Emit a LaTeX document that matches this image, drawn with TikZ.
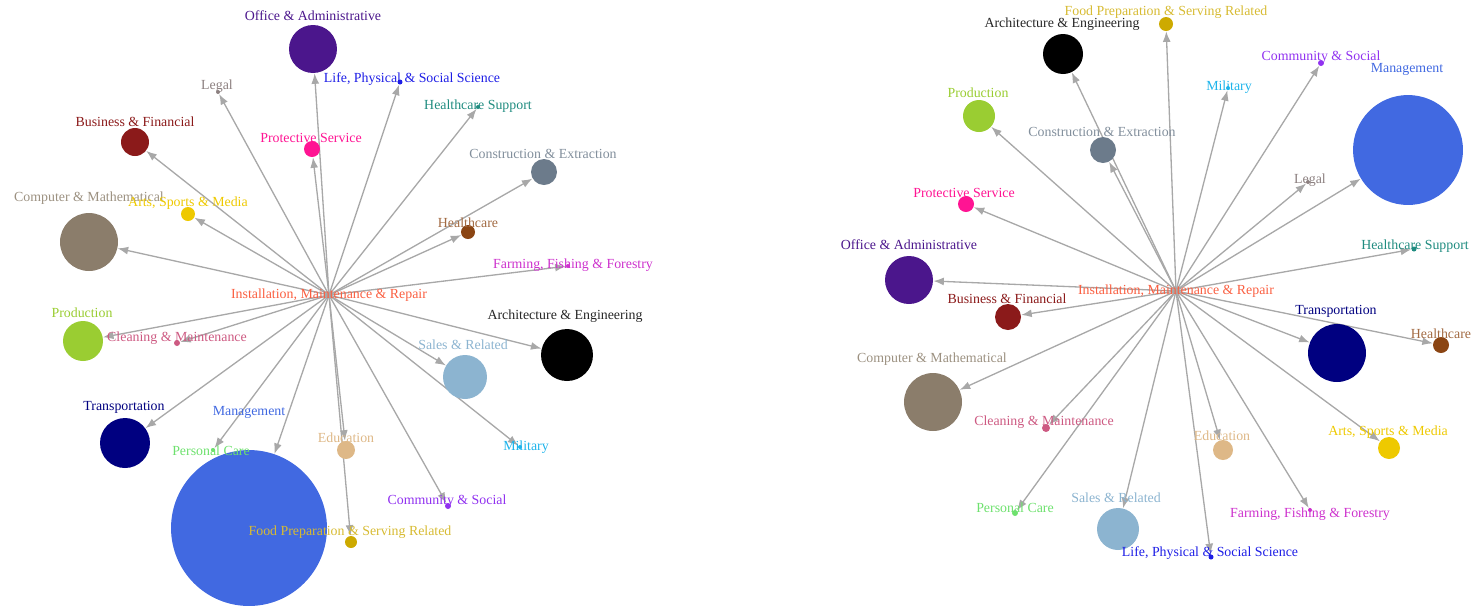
\documentclass[tikz,border=0pt]{standalone}
\usepackage{fontspec}
\setmainfont{Liberation Serif}
\usetikzlibrary{arrows.meta}

\definecolor{edgegrey}{RGB}{168,168,168}
\definecolor{installcol}{RGB}{250,95,65}
\definecolor{officecol}{RGB}{75,22,140}
\definecolor{lifecol}{RGB}{30,30,230}
\definecolor{legalcol}{RGB}{140,128,128}
\definecolor{businesscol}{RGB}{139,26,26}
\definecolor{protectcol}{RGB}{255,20,147}
\definecolor{hsupportcol}{RGB}{32,140,128}
\definecolor{constructcol}{RGB}{108,123,139}
\definecolor{computercol}{RGB}{139,125,107}
\definecolor{artscol}{RGB}{238,201,0}
\definecolor{healthcol}{RGB}{139,69,19}
\definecolor{farmingcol}{RGB}{205,50,205}
\definecolor{productioncol}{RGB}{154,205,50}
\definecolor{cleaningcol}{RGB}{205,90,130}
\definecolor{archcol}{RGB}{0,0,0}
\definecolor{salescol}{RGB}{140,180,208}
\definecolor{militarycol}{RGB}{30,180,235}
\definecolor{transportcol}{RGB}{0,0,128}
\definecolor{managecol}{RGB}{65,105,225}
\definecolor{personalcol}{RGB}{110,225,110}
\definecolor{educationcol}{RGB}{222,184,135}
\definecolor{communitycol}{RGB}{145,50,240}
\definecolor{foodcol}{RGB}{205,170,0}

\pgfdeclarelayer{background}
\pgfsetlayers{background,main}

\tikzset{jobstyle/.style={circle, inner sep=0pt, draw=none, minimum size=#1*0.04cm}}
\tikzstyle{lblstyle} = [inner sep=0pt, font=\fontsize{7.9}{9}\selectfont]
\tikzstyle{centerstyle} = [inner sep=0pt, text=installcol, font=\fontsize{7.9}{9}\selectfont]
\tikzstyle{arrow} = [draw=edgegrey, line width=0.75pt, ->, >={Latex[length=6pt,width=4.5pt]}]

\begin{document}
\begin{tikzpicture}[x=0.02cm, y=-0.02cm]
\useasboundingbox (0,0) rectangle (1474,610);

% left star
\node (install1) [centerstyle] at (329,295) {Installation, Maintenance \& Repair};

\node (office1) [jobstyle=24, fill=officecol] at (313,49) {};
\node (office1t) [lblstyle, text=officecol] at (313,16) {Office \& Administrative};
\node (life1) [jobstyle=2.5, fill=lifecol] at (400,82) {};
\node (life1t) [lblstyle, text=lifecol] at (412,79) {Life, Physical \& Social Science};
\node (legal1) [jobstyle=2, fill=legalcol] at (218,92) {};
\node (legal1t) [lblstyle, text=legalcol] at (217,86) {Legal};
\node (business1) [jobstyle=14, fill=businesscol] at (135,142) {};
\node (business1t) [lblstyle, text=businesscol] at (135,122) {Business \& Financial};
\node (protect1) [jobstyle=8, fill=protectcol] at (312,149) {};
\node (protect1t) [lblstyle, text=protectcol] at (311,138) {Protective Service};
\node (hsupport1) [jobstyle=2, fill=hsupportcol] at (478,107) {};
\node (hsupport1t) [lblstyle, text=hsupportcol] at (478,106) {Healthcare Support};
\node (construct1) [jobstyle=13, fill=constructcol] at (544,172) {};
\node (construct1t) [lblstyle, text=constructcol!85] at (543,154) {Construction \& Extraction};
\node (computer1) [jobstyle=29, fill=computercol] at (89,242) {};
\node (computer1t) [lblstyle, text=computercol!85] at (89,198) {Computer \& Mathematical};
\node (arts1) [jobstyle=7, fill=artscol] at (188,214) {};
\node (arts1t) [lblstyle, text=artscol] at (188,203) {Arts, Sports \& Media};
\node (health1) [jobstyle=7, fill=healthcol] at (468,232) {};
\node (health1t) [lblstyle, text=healthcol!80] at (468,223) {Healthcare};
\node (farming1) [jobstyle=2, fill=farmingcol] at (568,266) {};
\node (farming1t) [lblstyle, text=farmingcol] at (573,265) {Farming, Fishing \& Forestry};
\node (production1) [jobstyle=20, fill=productioncol] at (83,341) {};
\node (production1t) [lblstyle, text=productioncol] at (82,313) {Production};
\node (cleaning1) [jobstyle=3, fill=cleaningcol] at (177,343) {};
\node (cleaning1t) [lblstyle, text=cleaningcol] at (177,338) {Cleaning \& Maintenance};
\node (arch1) [jobstyle=26, fill=archcol] at (567,355) {};
\node (arch1t) [lblstyle, text=archcol!85] at (565,316) {Architecture \& Engineering};
\node (sales1) [jobstyle=22, fill=salescol] at (465,377) {};
\node (sales1t) [lblstyle, text=salescol] at (463,345) {Sales \& Related};
\node (military1) [jobstyle=2, fill=militarycol] at (520,447) {};
\node (military1t) [lblstyle, text=militarycol] at (526,447) {Military};
\node (transport1) [jobstyle=25, fill=transportcol] at (125,443) {};
\node (transport1t) [lblstyle, text=transportcol] at (124,407) {Transportation};
\node (manage1) [jobstyle=78, fill=managecol] at (249,528) {};
\node (manage1t) [lblstyle, text=managecol] at (249,412) {Management};
\node (personal1) [jobstyle=2, fill=personalcol] at (213,450) {};
\node (personal1t) [lblstyle, text=personalcol] at (211,451) {Personal Care};
\node (education1) [jobstyle=9, fill=educationcol] at (346,450) {};
\node (education1t) [lblstyle, text=educationcol] at (346,438) {Education};
\node (community1) [jobstyle=3, fill=communitycol] at (448,506) {};
\node (community1t) [lblstyle, text=communitycol] at (447,501) {Community \& Social};
\node (food1) [jobstyle=6, fill=foodcol] at (351,542) {};
\node (food1t) [lblstyle, text=foodcol!80] at (350,532) {Food Preparation \& Serving Related};

% right star
\node (install2) [centerstyle] at (1176,291) {Installation, Maintenance \& Repair};

\node (food2) [jobstyle=7, fill=foodcol] at (1166,24) {};
\node (food2t) [lblstyle, text=foodcol!80] at (1166,12) {Food Preparation \& Serving Related};
\node (arch2) [jobstyle=20, fill=archcol] at (1063,54) {};
\node (arch2t) [lblstyle, text=archcol!85] at (1062,24) {Architecture \& Engineering};
\node (community2) [jobstyle=3, fill=communitycol] at (1321,63) {};
\node (community2t) [lblstyle, text=communitycol] at (1321,57) {Community \& Social};
\node (manage2) [jobstyle=55, fill=managecol] at (1408,150) {};
\node (manage2t) [lblstyle, text=managecol] at (1407,69) {Management};
\node (military2) [jobstyle=2, fill=militarycol] at (1228,88) {};
\node (military2t) [lblstyle, text=militarycol] at (1229,87) {Military};
\node (production2) [jobstyle=16, fill=productioncol] at (979,116) {};
\node (production2t) [lblstyle, text=productioncol] at (978,93) {Production};
\node (construct2) [jobstyle=13, fill=constructcol] at (1103,150) {};
\node (construct2t) [lblstyle, text=constructcol!85] at (1102,132) {Construction \& Extraction};
\node (legal2) [jobstyle=2, fill=legalcol] at (1308,182) {};
\node (legal2t) [lblstyle, text=legalcol] at (1310,180) {Legal};
\node (protect2) [jobstyle=8, fill=protectcol] at (966,204) {};
\node (protect2t) [lblstyle, text=protectcol] at (964,193) {Protective Service};
\node (hsupport2) [jobstyle=2.5, fill=hsupportcol] at (1414,249) {};
\node (hsupport2t) [lblstyle, text=hsupportcol] at (1415,246) {Healthcare Support};
\node (office2) [jobstyle=24, fill=officecol] at (909,280) {};
\node (office2t) [lblstyle, text=officecol] at (909,245) {Office \& Administrative};
\node (business2) [jobstyle=13, fill=businesscol] at (1008,317) {};
\node (business2t) [lblstyle, text=businesscol] at (1007,299) {Business \& Financial};
\node (transport2) [jobstyle=29, fill=transportcol] at (1337,353) {};
\node (transport2t) [lblstyle, text=transportcol] at (1336,311) {Transportation};
\node (health2) [jobstyle=8, fill=healthcol] at (1441,345) {};
\node (health2t) [lblstyle, text=healthcol!80] at (1441,334) {Healthcare};
\node (computer2) [jobstyle=29, fill=computercol] at (933,402) {};
\node (computer2t) [lblstyle, text=computercol!85] at (932,359) {Computer \& Mathematical};
\node (cleaning2) [jobstyle=4, fill=cleaningcol] at (1046,428) {};
\node (cleaning2t) [lblstyle, text=cleaningcol] at (1044,422) {Cleaning \& Maintenance};
\node (education2) [jobstyle=10, fill=educationcol] at (1223,450) {};
\node (education2t) [lblstyle, text=educationcol] at (1222,436) {Education};
\node (arts2) [jobstyle=11, fill=artscol] at (1389,448) {};
\node (arts2t) [lblstyle, text=artscol] at (1388,432) {Arts, Sports \& Media};
\node (personal2) [jobstyle=3, fill=personalcol] at (1015,513) {};
\node (personal2t) [lblstyle, text=personalcol] at (1015,508) {Personal Care};
\node (sales2) [jobstyle=21, fill=salescol] at (1118,529) {};
\node (sales2t) [lblstyle, text=salescol] at (1116,498) {Sales \& Related};
\node (farming2) [jobstyle=2, fill=farmingcol] at (1310,510) {};
\node (farming2t) [lblstyle, text=farmingcol] at (1310,514) {Farming, Fishing \& Forestry};
\node (life2) [jobstyle=2.5, fill=lifecol] at (1211,557) {};
\node (life2t) [lblstyle, text=lifecol] at (1210,553) {Life, Physical \& Social Science};

\begin{pgfonlayer}{background}
\draw [arrow] (install1.center) -- (office1);
\draw [arrow] (install1.center) -- (life1);
\draw [arrow] (install1.center) -- (legal1);
\draw [arrow] (install1.center) -- (business1);
\draw [arrow] (install1.center) -- (protect1);
\draw [arrow] (install1.center) -- (hsupport1);
\draw [arrow] (install1.center) -- (construct1);
\draw [arrow] (install1.center) -- (computer1);
\draw [arrow] (install1.center) -- (arts1);
\draw [arrow] (install1.center) -- (health1);
\draw [arrow] (install1.center) -- (farming1);
\draw [arrow] (install1.center) -- (production1);
\draw [arrow] (install1.center) -- (cleaning1);
\draw [arrow] (install1.center) -- (arch1);
\draw [arrow] (install1.center) -- (sales1);
\draw [arrow] (install1.center) -- (military1);
\draw [arrow] (install1.center) -- (transport1);
\draw [arrow] (install1.center) -- (manage1);
\draw [arrow] (install1.center) -- (personal1);
\draw [arrow] (install1.center) -- (education1);
\draw [arrow] (install1.center) -- (community1);
\draw [arrow] (install1.center) -- (food1);

\draw [arrow] (install2.center) -- (food2);
\draw [arrow] (install2.center) -- (arch2);
\draw [arrow] (install2.center) -- (community2);
\draw [arrow] (install2.center) -- (manage2);
\draw [arrow] (install2.center) -- (military2);
\draw [arrow] (install2.center) -- (production2);
\draw [arrow] (install2.center) -- (construct2);
\draw [arrow] (install2.center) -- (legal2);
\draw [arrow] (install2.center) -- (protect2);
\draw [arrow] (install2.center) -- (hsupport2);
\draw [arrow] (install2.center) -- (office2);
\draw [arrow] (install2.center) -- (business2);
\draw [arrow] (install2.center) -- (transport2);
\draw [arrow] (install2.center) -- (health2);
\draw [arrow] (install2.center) -- (computer2);
\draw [arrow] (install2.center) -- (cleaning2);
\draw [arrow] (install2.center) -- (education2);
\draw [arrow] (install2.center) -- (arts2);
\draw [arrow] (install2.center) -- (personal2);
\draw [arrow] (install2.center) -- (sales2);
\draw [arrow] (install2.center) -- (farming2);
\draw [arrow] (install2.center) -- (life2);
\end{pgfonlayer}
\end{tikzpicture}
\end{document}
